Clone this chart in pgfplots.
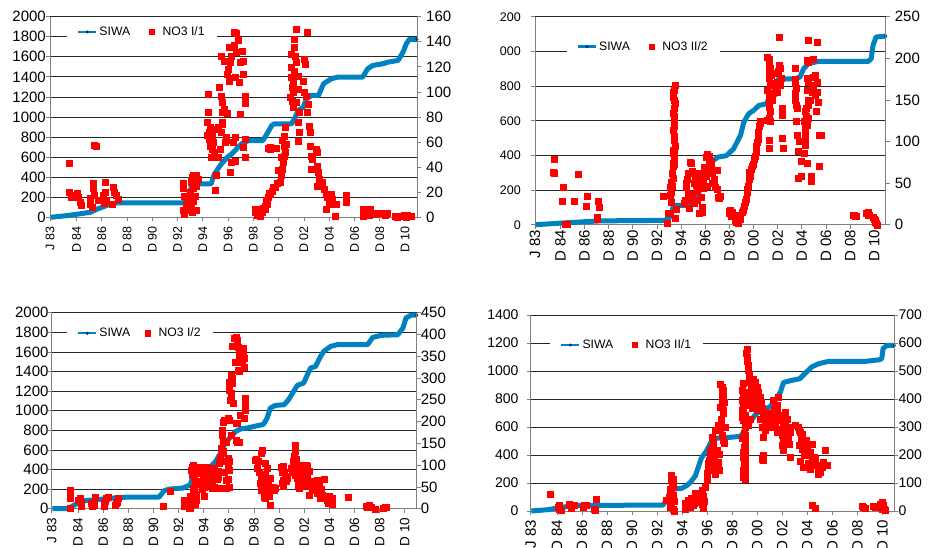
\documentclass[border=0pt]{standalone}
\usepackage{pgfplots}
\pgfplotsset{compat=1.18}
\usepackage{fontspec}
\setmainfont{Liberation Sans}
\definecolor{siwa}{RGB}{0,130,192}
\definecolor{siwadark}{RGB}{0,40,110}
\pgfplotsset{
  /pgf/number format/assume math mode=true,
  /pgf/number format/1000 sep={},
  base/.style={scale only axis, anchor=south west, xmin=1982.85, xmax=2011.9, ymin=0,
    tick align=outside, major tick length=4pt,
    axis line style={black!50, line width=0.8pt, -},
    tick style={black!50, line width=0.8pt},
    yticklabel style={font=\fontsize{15}{16}\selectfont, inner xsep=2pt},
    clip=false},
  leftax/.style={base, axis x line*=bottom, axis y line*=left,
    xtick={1982.85,1984.95,1986.95,1988.95,1990.95,1992.95,1994.95,1996.95,1998.95,2000.95,2002.95,2004.95,2006.95,2008.95,2010.95},
    xticklabels={J 83,D 84,D 86,D 88,D 90,D 92,D 94,D 96,D 98,D 00,D 02,D 04,D 06,D 08,D 10},
    xticklabel style={font=\fontsize{12.5}{13}\selectfont, rotate=90, anchor=east, inner xsep=5pt},
    ymajorgrids, major grid style={black!85, line width=0.8pt}},
  rightax/.style={base, axis x line=none, axis y line*=right,
    legend cell align=left,
    legend style={draw=none, fill=white, legend columns=2, font=\fontsize{12.2}{13}\selectfont,
      inner xsep=10pt, inner ysep=2pt, anchor=west,
      nodes={inner xsep=2pt, inner ysep=1.5pt},
      /tikz/every even column/.append style={column sep=17pt}}},
  siwaline/.style={siwa, line width=5pt, line join=round, mark=none},
  siwaend/.style={only marks, mark=diamond*, mark size=1.8pt, siwadark},
  no3/.style={only marks, mark=square*, mark size=3pt, red, mark options={draw=red, fill=red, line width=0.1pt},
    legend image code/.code={\fill[red] (0pt,-2.6pt) rectangle (5.2pt,2.6pt); \path (11pt,0pt);}},
  siwaleg/.style={legend image code/.code={
     \draw[siwa, line width=2.4pt] (0pt,0pt) -- (18pt,0pt);
     \fill[siwadark] (9pt,0pt) circle (1.3pt);}},
}
\begin{document}
\begin{tikzpicture}
\path[use as bounding box] (0pt,0pt) rectangle (930pt,547pt);

% ---------------- Panel 1 ----------------
\begin{axis}[leftax, at={(50pt,329.7pt)}, width=367pt, height=200.6pt,
  ymax=2000, ytick={0,200,...,2000}, yticklabel style={inner xsep=0pt}]
\addplot[siwaline] coordinates {(1982.9,0) (1984.2,17) (1985.5,40) (1986.05,50) (1986.6,83) (1987.1,106) (1987.6,133) (1988.15,143) (1993.3,143) (1993.6,160) (1993.9,250) (1994.1,320) (1994.4,333) (1995.6,333) (1995.85,430) (1996.4,530) (1996.9,600) (1997.24,632) (1998.0,732) (1998.55,765) (1999.7,765) (2000.1,849) (2000.4,915) (2000.6,932) (2001.97,932) (2002.2,982) (2002.5,1065) (2002.9,1098) (2003.15,1181) (2003.55,1215) (2004.1,1215) (2004.5,1331) (2005.1,1381) (2005.65,1398) (2007.6,1398) (2008.0,1481) (2008.4,1514) (2009.2,1531) (2009.6,1547) (2010.4,1564) (2010.8,1647) (2011.05,1730) (2011.3,1775) (2011.9,1775)};
\addplot[siwaend] coordinates {(2011.9,1775)};
\end{axis}
\begin{axis}[rightax, at={(50pt,329.7pt)}, width=367pt, height=200.6pt,
  ymax=160, ytick={0,20,...,160}, yticklabel style={xshift=3pt},
  legend style={at={(0.046,0.924)}}]
\addlegendimage{siwaleg}
\addlegendentry{SIWA}
\addplot[no3] coordinates {
(1984.35,43) (1984.35,20.5) (1984.5,17.8) (1984.55,16) (1985.0,19) (1985.1,16.5) (1985.2,12.5) (1985.3,10) (1986.05,15) (1986.05,10.6) (1986.15,8) (1986.25,27) (1986.25,23) (1986.3,18) (1986.35,57.7) (1986.5,57) (1986.65,14) (1986.9,14) (1987.05,18) (1987.1,11) (1987.2,28.5) (1987.2,20.5) (1987.25,14) (1987.85,24.5) (1987.95,20.5) (1988.1,18) (1988.2,14.6) (1987.8,10.6)
(1993.4,6) (1993.35,23) (1993.4,27.6) (1993.45,2.7) (1993.5,17.3) (1993.65,10.6) (1993.75,14.6) (1993.8,6) (1993.9,20) (1993.95,9.3) (1994.0,28) (1994.0,30) (1994.05,11) (1994.1,32) (1994.1,4) (1994.15,13.3) (1994.2,33.8) (1994.2,23) (1994.3,29) (1994.3,17.3) (1994.35,33.3) (1994.4,34) (1994.4,25.3) (1994.4,6) (1994.55,30.6)
(1995.25,66) (1995.3,76) (1995.35,98.5) (1995.35,84) (1995.4,68) (1995.45,62.6) (1995.5,57) (1995.55,72) (1995.6,48) (1995.65,54.6) (1995.7,65) (1995.77,60) (1995.8,52) (1995.9,70.5) (1995.95,21.8) (1996.0,33.3) (1996.15,72) (1996.15,48) (1996.25,104) (1996.3,54.6) (1996.35,68) (1996.35,97) (1996.35,129) (1996.45,92) (1996.5,74.5) (1996.5,84) (1996.5,76) (1996.6,86.5) (1996.6,125) (1996.7,60) (1996.75,62) (1996.8,64) (1996.85,114) (1996.9,83) (1996.95,118) (1997.05,109) (1997.05,136) (1997.05,111) (1997.1,124) (1997.1,36) (1997.2,129) (1997.2,44) (1997.3,136) (1997.3,60) (1997.38,137) (1997.4,148) (1997.5,112) (1997.5,64) (1997.5,44.5) (1997.56,147) (1997.6,132) (1997.72,141) (1997.8,108) (1997.9,124) (1997.9,82.5) (1998.03,133) (1998.1,114) (1998.1,56) (1998.17,125) (1998.25,97) (1998.25,91) (1998.25,62.6) (1998.3,48)
(1999.08,4) (1999.1,6.7) (1999.2,1.5) (1999.3,2.7) (1999.5,0.8) (1999.6,4) (1999.6,6.7) (1999.7,7) (1999.85,9) (1999.87,6.7) (1999.95,14) (2000.0,10.6) (2000.1,55) (2000.13,16) (2000.2,19) (2000.26,18.6) (2000.26,56) (2000.3,54.6) (2000.4,21.3) (2000.5,24.5) (2000.65,24) (2000.75,55) (2000.8,27) (2000.9,38) (2001.04,28) (2001.1,48) (2001.17,33.3) (2001.2,38.6) (2001.2,62) (2001.3,44) (2001.35,49) (2001.38,57) (2001.38,65) (2001.43,72) (2001.43,52) (2001.5,58.6)
(2001.85,96) (2001.9,120) (2001.95,112) (2001.95,130) (2002.0,104) (2002.03,93) (2002.05,88) (2002.1,108) (2002.1,100) (2002.15,142) (2002.2,136) (2002.2,117) (2002.25,129) (2002.35,150) (2002.35,124) (2002.35,92) (2002.5,102.5) (2002.5,113) (2002.5,76) (2002.5,61) (2002.55,68) (2002.6,84) (2002.9,109) (2002.95,126) (2002.95,100) (2003.0,122) (2003.1,97) (2003.2,148) (2003.2,84) (2003.27,90.5) (2003.35,73) (2003.4,68) (2003.4,57) (2003.5,49) (2003.55,38.6) (2003.6,46.6) (2003.75,38.6) (2003.9,54.6) (2003.95,52) (2004.0,41) (2004.0,25) (2004.1,36) (2004.15,30.6) (2004.4,28) (2004.55,22.6) (2004.7,18.6) (2004.7,6.7) (2004.75,16) (2004.9,12) (2005.1,10.6) (2005.1,18.6) (2005.2,14.6) (2005.4,0.8) (2005.5,10.6) (2006.27,17.8) (2006.27,12)
(2007.6,6.7) (2007.65,1) (2007.7,4) (2007.97,5.3) (2008.0,2.7) (2008.1,1.5) (2008.18,6.7) (2008.6,2.7) (2008.7,3.5) (2009.3,3.2) (2009.4,2) (2009.5,3.2) (2010.2,1.3) (2010.3,0.5) (2010.45,1.3) (2010.6,0.8) (2010.85,1.9) (2011.0,0.5) (2011.1,1.9) (2011.2,1) (2011.4,1.3)};
\addlegendentry{NO3 I/1}
\end{axis}

% ---------------- Panel 2 ----------------
\begin{scope}
\clip (499.5pt,284pt) rectangle (931pt,548pt);
\begin{axis}[leftax, at={(535pt,322.3pt)}, width=350.7pt, height=208pt,
  ymax=1200, ytick={0,200,...,1200},
  yticklabel style={font=\fontsize{12.5}{13}\selectfont, xshift=-8pt},
  xticklabel style={font=\fontsize{15}{16}\selectfont, inner xsep=1pt}]
\addplot[siwaline] coordinates {(1982.9,0) (1985.4,11) (1988.2,22) (1993.6,25) (1994.05,44) (1994.3,105) (1994.4,111) (1995.7,111) (1996.1,140) (1996.7,227) (1997.1,310) (1997.6,370) (1998.0,390) (1998.7,398) (1999.3,438) (1999.87,515) (2000.15,592) (2000.55,640) (2000.97,660) (2001.4,688) (2002.05,698) (2002.2,727) (2002.6,765) (2003.0,842) (2004.4,842) (2004.8,852) (2005.1,900) (2005.5,929) (2006.3,942) (2010.45,942) (2010.7,958) (2010.85,1035) (2011.1,1083) (2011.9,1088)};
\addplot[siwaend] coordinates {(2011.9,1088)};
\end{axis}
\begin{axis}[rightax, at={(535pt,322.3pt)}, width=350.7pt, height=208pt,
  ymax=250, ytick={0,50,...,250}, yticklabel style={xshift=3pt},
  legend style={at={(0.090,0.856)}}]
\addlegendimage{siwaleg}
\addlegendentry{SIWA}
\addplot[no3] coordinates {
(1984.45,79) (1984.45,62.5) (1984.35,63) (1985.2,45) (1985.1,28) (1985.35,1.2) (1985.5,1.2) (1986.05,28) (1986.4,60.5) (1987.05,23) (1987.2,34.5) (1987.95,6.4) (1988.0,9) (1988.1,28.5) (1988.15,21)
(1993.45,34) (1993.8,1.6) (1993.9,14) (1994.0,14.4) (1994.05,45.7) (1994.07,36) (1994.1,51.7) (1994.12,39.7) (1994.15,27) (1994.2,61.7) (1994.2,47) (1994.25,56) (1994.25,70) (1994.28,90) (1994.3,73.7) (1994.3,85.7) (1994.3,113.8) (1994.3,133.8) (1994.3,153) (1994.33,140) (1994.35,101.8) (1994.35,125) (1994.35,161.9) (1994.38,118) (1994.4,107) (1994.4,80) (1994.42,95) (1994.45,145.8) (1994.45,167.9) (1994.4,73) (1994.5,18.8) (1994.45,7.6) (1994.35,130) (1994.4,150) (1994.32,160) (1994.38,88)
(1995.2,25.6) (1995.3,30) (1995.35,45.7) (1995.4,50) (1995.45,55) (1995.5,61.7) (1995.55,37.7) (1995.6,29.6) (1995.65,20) (1995.7,75) (1995.75,73.7) (1995.85,37) (1995.9,65) (1996.0,49.7) (1996.0,25.6) (1996.1,57.7) (1996.2,47.7) (1996.25,40) (1996.3,29.6) (1996.4,61.7) (1996.4,14) (1996.5,55) (1996.6,33.6) (1996.65,21.6) (1996.7,15.6) (1996.75,43.7) (1996.8,52) (1996.85,69.7) (1996.95,63.7) (1997.0,58) (1997.05,81.7) (1997.1,47) (1997.1,85) (1997.2,61.7) (1997.25,77.7) (1997.25,83) (1997.4,69.7) (1997.4,75) (1997.45,71.7) (1997.55,49.7) (1997.55,63) (1997.65,53.7) (1997.7,55) (1997.8,45.7) (1997.9,65.7) (1997.9,43) (1998.0,33) (1998.1,31.6) (1998.15,34)
(1998.9,17) (1999.0,18) (1999.2,15) (1999.3,12) (1999.4,5) (1999.5,3) (1999.6,11) (1999.7,2) (1999.8,7) (2000.0,15) (2000.1,18) (2000.15,23) (2000.25,27) (2000.3,31) (2000.4,39) (2000.45,43) (2000.5,47) (2000.55,55) (2000.6,63) (2000.7,59) (2000.75,67) (2000.8,70) (2000.9,73) (2001.0,79) (2001.05,83) (2001.15,87) (2001.2,95) (2001.25,99) (2001.3,103) (2001.35,111) (2001.4,119) (2001.45,122) (2001.5,125) (1998.95,14) (1999.1,10)
(2002.05,202) (2002.2,199.5) (2002.25,192) (2002.3,188) (2002.2,184) (2002.4,180) (2002.25,176) (2002.5,170) (2002.35,168) (2002.05,162) (2002.6,158) (2002.2,158) (2002.75,162) (2002.25,150) (2002.45,150) (2002.25,142) (2002.35,136) (2002.25,128) (2002.35,124) (2002.1,126) (2002.2,102) (2002.2,92) (2003.1,225.6) (2003.05,192) (2003.15,188) (2003.0,185) (2002.9,182) (2003.2,176) (2002.9,172) (2003.15,168) (2002.9,160) (2003.35,140) (2003.3,132) (2003.35,104) (2003.4,92)
(2004.35,175.5) (2004.4,188) (2004.4,170) (2004.5,164) (2004.4,158) (2004.35,150) (2004.45,144) (2004.55,140) (2004.5,124) (2004.55,108) (2004.7,100) (2004.6,88) (2004.9,76) (2004.6,56) (2004.85,58) (2005.5,221.5) (2006.2,219.5) (2005.85,199.5) (2005.4,198) (2005.5,196) (2005.35,176) (2005.5,172) (2005.35,162) (2005.5,150) (2005.6,150) (2005.5,144) (2005.3,140) (2005.2,136) (2005.45,128) (2005.3,130) (2005.15,124) (2005.4,120) (2005.2,116) (2005.25,110) (2005.25,104) (2005.2,96) (2005.1,86) (2005.4,74) (2005.7,58) (2005.7,52) (2006.05,179.5) (2005.9,178) (2006.2,172) (2005.9,168) (2006.25,160) (2005.8,160) (2006.05,156) (2006.3,148) (2006.15,136) (2006.4,108) (2006.55,108) (2006.4,70.5)
(2009.2,11) (2009.3,12) (2009.35,10.4) (2009.45,10.4) (2010.3,14) (2010.4,15) (2010.45,12) (2010.5,11) (2010.85,9) (2010.95,7) (2011.0,5) (2011.05,3) (2011.1,1.5) (2011.15,0)};
\addlegendentry{NO3 II/2}
\end{axis}
\end{scope}

% ---------------- Panel 3 ----------------
\begin{axis}[leftax, at={(51.7pt,38.3pt)}, width=365pt, height=196pt,
  ymax=2000, ytick={0,200,...,2000}, yticklabel style={inner xsep=0pt, xshift=1pt},
  xticklabel style={font=\fontsize{13.5}{14}\selectfont}]
\addplot[siwaline] coordinates {(1982.9,0) (1984.2,0) (1984.5,27) (1984.9,54) (1985.5,82) (1986.6,95) (1987.9,110) (1988.9,119) (1991.4,119) (1991.8,184) (1992.2,200) (1993.3,211) (1993.9,245) (1994.15,390) (1994.25,398) (1995.0,398) (1995.4,415) (1995.9,483) (1996.3,568) (1996.6,653) (1997.0,721) (1997.5,789) (1997.9,815) (1998.4,823) (1999.1,844) (1999.7,860) (2000.0,925) (2000.25,1027) (2000.65,1054) (2001.35,1061) (2001.7,1112) (2002.1,1197) (2002.4,1259) (2002.9,1282) (2003.2,1367) (2003.45,1435) (2003.85,1452) (2004.25,1554) (2004.5,1605) (2005.05,1656) (2005.6,1675) (2008.0,1675) (2008.4,1748) (2009.05,1769) (2010.4,1775) (2010.8,1843) (2011.05,1946) (2011.45,1975) (2011.9,1975)};
\addplot[siwaend] coordinates {(2011.9,1975)};
\end{axis}
\begin{axis}[rightax, at={(51.7pt,38.3pt)}, width=365pt, height=196pt,
  ymax=450, ytick={0,50,...,450}, yticklabel style={inner xsep=0pt},
  legend style={at={(0.0415,0.895)}, /tikz/every even column/.style={column sep=13pt}}]
\addlegendimage{siwaleg}
\addlegendentry{SIWA}
\addplot[no3] coordinates {
(1984.3,43) (1984.35,37) (1984.3,24) (1984.3,1.5) (1984.95,20) (1985.1,25) (1985.15,16) (1985.2,11) (1985.2,6) (1986.0,13) (1986.1,5) (1986.15,12) (1986.3,27.5) (1986.2,8) (1987.0,12) (1987.1,17) (1987.15,24) (1987.3,27.5) (1987.05,5) (1987.9,8) (1987.95,13) (1988.05,16) (1988.15,24) (1991.7,5) (1992.3,41)
(1993.4,20) (1993.4,6) (1993.5,17) (1993.55,5) (1993.6,12) (1993.7,10) (1993.8,2) (1993.85,2) (1993.9,30) (1993.95,9.5) (1993.95,89) (1994.0,96) (1994.0,14) (1994.05,79) (1994.1,101) (1994.1,48) (1994.1,43) (1994.15,73) (1994.15,27.5) (1994.2,86) (1994.2,17) (1994.2,40) (1994.25,58) (1994.25,10) (1994.3,63) (1994.3,33) (1994.3,20) (1994.35,56) (1994.4,89)
(1994.6,96) (1994.7,60) (1994.75,81) (1994.8,45) (1994.9,73) (1995.0,50) (1995.0,30) (1995.1,95) (1995.15,73) (1995.25,63) (1995.3,93) (1995.3,82) (1995.35,60) (1995.4,78) (1995.45,62) (1995.45,55) (1995.5,67) (1995.65,55) (1995.65,47) (1995.7,68) (1995.75,75) (1995.8,93) (1995.8,50) (1995.9,80) (1996.0,67) (1996.05,73) (1996.1,86) (1996.2,104) (1996.2,47) (1996.25,119) (1996.35,140) (1996.4,127) (1996.4,170) (1996.4,181) (1996.45,109) (1996.45,155) (1996.45,200) (1996.5,132) (1996.5,200) (1996.6,204) (1996.6,85) (1996.7,47) (1996.75,154) (1996.75,66) (1996.85,208) (1996.85,116) (1996.85,93) (1996.85,67) (1996.95,204) (1996.95,109) (1996.95,50) (1997.0,89) (1997.1,170)
(1996.95,272) (1997.0,277) (1997.0,290) (1997.05,250) (1997.1,265) (1997.1,308) (1997.1,253) (1997.15,307) (1997.2,288) (1997.2,299) (1997.25,242) (1997.2,373) (1997.4,392) (1997.45,373) (1997.45,336) (1997.5,395) (1997.55,391) (1997.6,387) (1997.7,372) (1997.75,357) (1997.8,349) (1997.9,360) (1997.95,364) (1998.0,342) (1998.0,337) (1998.05,368) (1998.07,369) (1998.1,357) (1998.15,345) (1998.15,326) (1997.65,318) (1997.8,315) (1998.2,254) (1998.25,246) (1998.2,231) (1998.2,226) (1998.15,207) (1997.85,216) (1997.55,196) (1997.6,197) (1997.55,158) (1997.6,154) (1997.75,154)
(1999.0,112) (1999.1,115) (1999.2,93) (1999.3,109) (1999.35,85) (1999.4,58) (1999.5,43) (1999.5,70) (1999.55,128) (1999.6,135) (1999.6,80) (1999.7,60) (1999.75,27.5) (1999.85,105) (1999.85,78) (1999.85,47) (1999.85,25) (1999.9,38) (2000.0,93) (2000.0,63) (2000.0,36) (2000.1,55) (2000.15,30) (2000.2,47) (2000.25,70) (2000.25,9.5) (2000.4,47) (2000.5,50) (2000.55,42) (2000.65,47)
(2001.1,96) (2001.2,84) (2001.2,58) (2001.25,66) (2001.3,97) (2001.3,51) (2001.35,85) (2001.4,73) (2001.4,75) (2001.5,63) (2001.55,70)
(2001.9,93) (2002.0,85) (2002.05,109) (2002.1,100) (2002.15,120) (2002.2,132) (2002.2,78) (2002.25,147) (2002.3,115) (2002.35,101) (2002.35,71) (2002.45,90) (2002.45,55) (2002.5,78) (2002.5,47) (2002.6,100) (2002.7,88) (2002.8,62) (2002.9,93) (2003.0,78) (2003.0,51) (2003.1,100) (2003.15,71) (2003.2,97) (2003.3,86) (2003.3,59) (2003.35,32) (2003.6,43.6) (2003.65,63)
(2003.8,47) (2003.95,36) (2004.0,66) (2004.1,59) (2004.15,47) (2004.2,25) (2004.3,44) (2004.4,32) (2004.5,67) (2004.6,25) (2004.7,30) (2004.8,20) (2004.85,13) (2004.9,28) (2005.05,17) (2005.1,20) (2005.15,10) (2005.2,24) (2006.4,27)
(2007.85,5.4) (2007.95,3) (2008.1,8) (2008.3,3) (2008.55,0) (2009.25,1.5) (2009.4,4) (2009.5,3)};
\addlegendentry{NO3 I/2}
\end{axis}

% ---------------- Panel 4 ----------------
\begin{axis}[leftax, at={(530.7pt,36pt)}, width=363.6pt, height=196pt,
  ymax=1400, ytick={0,200,...,1400},
  yticklabel style={font=\fontsize{14}{15}\selectfont, xshift=-6pt},
  xticklabel style={font=\fontsize{15}{16}\selectfont}]
\addplot[siwaline] coordinates {(1982.9,0) (1984.3,10) (1984.9,21) (1985.4,28) (1986.7,40) (1993.4,42) (1993.8,85) (1994.0,155) (1994.9,162) (1995.3,180) (1995.6,205) (1996.0,250) (1996.3,330) (1996.5,380) (1996.9,430) (1997.3,500) (1997.6,520) (1998.1,521) (1999.6,533) (2000.1,588) (2000.4,636) (2000.8,690) (2001.3,719) (2001.95,743) (2002.4,790) (2002.8,850) (2003.05,918) (2003.7,933) (2004.35,945) (2004.75,981) (2005.3,1029) (2005.85,1052) (2006.65,1069) (2009.6,1069) (2010.7,1080) (2010.9,1088) (2011.0,1160) (2011.3,1183) (2011.9,1183)};
\addplot[siwaend] coordinates {(2011.9,1183)};
\end{axis}
\begin{axis}[rightax, at={(530.7pt,36pt)}, width=363.6pt, height=196pt,
  ymax=700, ytick={0,100,...,700}, yticklabel style={font=\fontsize{14}{15}\selectfont, inner xsep=0pt},
  legend style={at={(0.053,0.847)}}]
\addlegendimage{siwaleg}
\addlegendentry{SIWA}
\addplot[no3] coordinates {
(1984.4,62) (1985.0,14) (1985.1,8) (1985.15,20) (1985.3,2) (1985.95,26) (1986.05,10) (1986.2,20) (1986.35,23) (1987.0,14) (1987.15,23) (1987.25,20) (1987.9,8) (1988.0,2) (1988.05,44)
(1993.7,38) (1993.9,50) (1993.95,14) (1994.0,80) (1994.0,20) (1994.05,110) (1994.1,127) (1994.1,68) (1994.1,26) (1994.15,100) (1994.2,115) (1994.2,85) (1994.2,44) (1994.2,8) (1994.25,92) (1994.25,56) (1994.3,35) (1994.3,0)
(1995.15,26) (1995.2,8) (1995.2,27) (1995.3,15) (1995.45,39) (1995.5,32) (1995.6,14) (1995.7,44) (1995.7,45) (1995.8,21) (1995.9,30) (1995.95,50) (1996.0,63) (1996.05,32) (1996.15,44) (1996.15,51) (1996.3,39) (1996.4,55) (1996.5,68) (1996.5,25) (1996.55,75) (1996.6,10) (1996.65,52) (1996.7,37)
(1996.8,87) (1996.9,125) (1996.95,111) (1996.95,135) (1997.0,170) (1997.05,158) (1997.1,182) (1997.15,200) (1997.2,218) (1997.25,212) (1997.3,145) (1997.3,211) (1997.3,264) (1997.35,230) (1997.38,234) (1997.4,248) (1997.43,258) (1997.43,187) (1997.45,258) (1997.5,188) (1997.51,163) (1997.55,164) (1997.57,133) (1997.6,289) (1997.75,218) (1997.8,158) (1997.85,176) (1997.9,146) (1997.9,205)
(1997.83,306) (1997.97,455) (1997.97,371) (1997.97,288) (1998.0,295) (1998.05,330) (1998.05,310) (1998.1,437) (1998.1,395) (1998.1,420) (1998.15,444) (1998.15,373) (1998.15,270) (1998.2,408) (1998.2,350) (1998.2,254) (1998.23,419) (1998.23,354) (1998.25,432) (1998.25,361) (1998.3,390) (1998.3,242) (1998.35,300)
(1999.7,396) (1999.7,360) (1999.75,432) (1999.75,337) (1999.75,260) (1999.8,410) (1999.8,210) (1999.8,123) (1999.83,425) (1999.83,401) (1999.83,377) (1999.83,354) (1999.83,330) (1999.85,456) (1999.85,385) (1999.85,325) (1999.85,194) (1999.85,146) (1999.9,230) (1999.9,280) (1999.9,170) (1999.95,300) (1999.97,270) (1999.97,246) (1999.97,222) (1999.97,199) (1999.97,175) (1999.97,151) (1999.97,127) (1999.97,115) (1999.97,425) (1999.97,342)
(2000.1,580) (2000.1,550) (2000.18,520) (2000.23,502) (2000.29,479) (2000.37,461) (2000.37,425) (2000.5,449) (2000.63,473) (2000.77,461) (2000.9,443) (2001.03,425) (2001.17,407) (2001.25,389) (2001.3,366) (2001.43,348) (2001.17,330) (2001.57,318) (2001.7,306) (2001.3,300) (2001.43,264) (2001.57,354) (2000.77,401) (2000.5,366) (2000.37,330) (2000.23,306) (2000.05,565) (2000.15,535) (2000.3,490) (2000.45,440) (2000.6,415) (2000.7,430) (2000.85,420) (2001.0,395) (2001.1,380) (2000.95,360) (2000.6,390) (2001.35,330) (2001.5,335) (2001.6,290) (2001.65,340) (2001.8,320) (2000.2,400) (2000.4,380)
(2002.23,395) (2002.37,377) (2002.5,354) (2002.63,407) (2002.23,336) (2002.37,306) (2002.5,282) (2002.9,342) (2003.03,318) (2003.17,354) (2003.3,330) (2003.43,300) (2003.3,276) (2003.57,282) (2002.9,294) (2003.03,258) (2002.9,235) (2003.03,217) (2003.57,193) (2001.43,199) (2001.43,181) (2001.3,187) (2002.3,365) (2002.45,325) (2002.55,380) (2002.7,340) (2003.1,300) (2003.2,320) (2003.4,260) (2003.5,240) (2002.95,270) (2002.1,350) (2001.95,330) (2002.0,300)
(2004.23,300) (2004.37,282) (2004.45,258) (2004.3,235) (2004.5,223) (2004.63,240) (2004.5,276) (2004.77,240) (2004.9,223) (2005.03,199) (2005.17,211) (2005.3,181) (2005.43,169) (2005.57,187) (2005.7,163) (2005.83,151) (2005.97,139) (2006.23,175) (2006.37,217) (2006.5,163) (2006.1,157) (2005.83,133) (2005.17,151) (2004.63,157) (2005.3,240) (2005.03,240) (2004.0,307) (2004.3,289) (2004.85,254) (2004.95,230) (2005.2,206) (2005.5,194) (2005.0,170) (2004.7,200) (2004.4,180)
(2005.3,23) (2005.57,11)
(2009.3,18) (2009.43,14) (2009.57,11) (2010.23,17) (2010.37,14) (2010.63,18) (2010.77,26) (2010.9,32) (2011.03,20) (2011.1,8) (2011.2,2) (2010.95,8)};
\addlegendentry{NO3 II/1}
\end{axis}
\end{tikzpicture}
\end{document}
